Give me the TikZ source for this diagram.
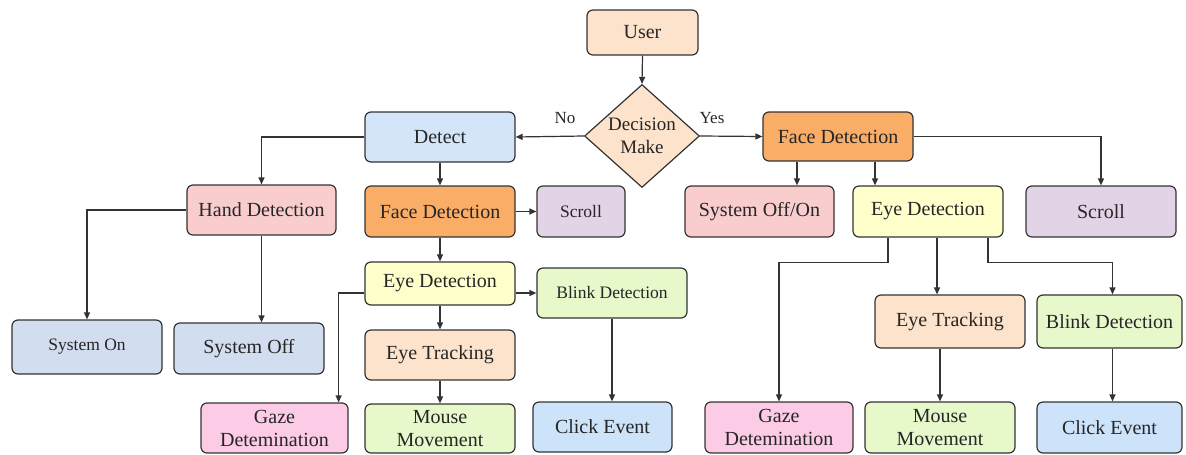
\documentclass[tikz,border=0pt]{standalone}
\usepackage{fontspec}
\setmainfont{Liberation Serif}
\newfontfamily\tnr{Liberation Serif}
\usetikzlibrary{shapes.geometric,arrows.meta}
\definecolor{cpeach}{HTML}{FDE3CB}
\definecolor{cblue}{HTML}{D4E5FA}
\definecolor{cclick}{HTML}{CCE3FA}
\definecolor{corange}{HTML}{F9AD66}
\definecolor{cpink}{HTML}{F9CDCD}
\definecolor{cpurple}{HTML}{E3D3E6}
\definecolor{cyellow}{HTML}{FFFFCC}
\definecolor{cgreen}{HTML}{E7F8CB}
\definecolor{cgrayblue}{HTML}{D2DEEF}
\definecolor{cgaze}{HTML}{FCCBE5}
\definecolor{cline}{HTML}{333333}
\definecolor{ctext}{HTML}{262626}
\tikzset{
  box/.style={draw=cline, line width=1.2pt, rounded corners=6pt, inner sep=0pt,
    align=center, text=ctext, font=\tnr\fontsize{20}{23}\selectfont},
  small/.style={font=\tnr\fontsize{17.5}{21}\selectfont},
  dia/.style={draw=cline, line width=1.2pt, shape=diamond, inner sep=0pt, fill=cpeach},
  arr/.style={draw=cline, line width=1.2pt, -{Triangle[length=7pt,width=6pt]}},
  lbl/.style={text=ctext, font=\tnr\fontsize{17}{21}\selectfont, inner sep=0pt}
}
\newcommand{\bx}[8]{% name, x1, x2, y1, y2, fill, extra, text
  \node[box, fill=#6, minimum width={#3-#2}, minimum height={#5-#4}, #7] (#1) at ({(#2+#3)/2},{(#4+#5)/2}) {#8};}
\begin{document}
\begin{tikzpicture}[x=1pt,y=-1pt]
\useasboundingbox (0,0) rectangle (1186,455);
% top
\bx{user}{587}{698}{10}{55}{cpeach}{}{User}
\node[dia, minimum width=115pt, minimum height=103pt] (dec) at (642,136) {};
\node[lbl, align=center, font=\tnr\fontsize{19}{23}\selectfont] (dectxt) at (dec) {Decision\\Make};
\bx{detect}{365}{515}{112}{162}{cblue}{}{Detect}
\bx{face1}{763}{913}{112}{161}{corange}{}{Face Detection}
% row 2
\bx{hand}{187}{336}{185}{235}{cpink}{}{Hand Detection}
\bx{face2}{365}{515}{186}{237}{corange}{}{Face Detection}
\bx{scroll2l}{537}{625}{186}{237}{cpurple}{small}{Scroll}
\bx{sysoffon}{685}{834}{186}{237}{cpink}{}{System Off/On}
\bx{eye1}{853}{1003}{186}{237}{cyellow}{}{Eye Detection}
\bx{scroll1}{1026}{1176}{186}{237}{cpurple}{}{Scroll}
% left middle
\bx{eye2}{365}{515}{262}{305}{cyellow}{}{Eye Detection}
\bx{blink2}{537}{687}{268}{318}{cgreen}{small}{Blink Detection}
\bx{sysOn}{12}{162}{320}{374}{cgrayblue}{small}{System On}
\bx{sysOff}{174}{324}{323}{374}{cgrayblue}{}{System Off}
\bx{track2}{365}{515}{330}{380}{cpeach}{}{Eye Tracking}
% right middle
\bx{track1}{875}{1025}{295}{348}{cpeach}{}{Eye Tracking}
\bx{blink1}{1037}{1182}{295}{348}{cgreen}{}{Blink Detection}
% bottom
\bx{gaze2}{201}{348}{403}{453}{cgaze}{}{Gaze\\Detemination}
\bx{mouse2}{365}{515}{404}{453}{cgreen}{}{Mouse\\Movement}
\bx{click2}{533}{672}{402}{452}{cclick}{}{Click Event}
\bx{gaze1}{705}{853}{402}{453}{cgaze}{}{Gaze\\Detemination}
\bx{mouse1}{865}{1015}{402}{453}{cgreen}{}{Mouse\\Movement}
\bx{click1}{1037}{1182}{402}{453}{cclick}{}{Click Event}
% labels
\node[lbl] (no) at (565,118) {No};
\node[lbl] (yes) at (712,118) {Yes};
% connectors
\draw[arr] (user.south) -- (dec.north);
\draw[arr] (dec.west) -- (detect.east);
\draw[arr] (dec.east) -- (face1.west);
\draw[arr] (detect.west) -| (hand.north);
\draw[arr] (detect.south) -- (face2.north);
\draw[arr] (face2.east) -- (scroll2l.west);
\draw[arr] (face2.south) -- (eye2.north);
\draw[arr] (eye2.east |- blink2.west) -- (blink2.west);
\draw[arr] (eye2.west |- blink2.west) -| ([xshift=-10pt]gaze2.north east);
\draw[arr] (eye2.south) -- (track2.north);
\draw[arr] (track2.south) -- (mouse2.north);
\draw[arr] (blink2.south) -- (blink2.south |- click2.north);
\draw[arr] (hand.west) -| (sysOn.north);
\draw[arr] (hand.south) -- (hand.south |- sysOff.north);
\draw[arr] ([xshift=-41pt]face1.south) -- ([xshift=-41pt]face1.south |- sysoffon.north);
\draw[arr] ([xshift=37pt]face1.south) -- ([xshift=37pt]face1.south |- eye1.north);
\draw[arr] (face1.east) -| (scroll1.north);
\draw[arr] ([xshift=-40pt]eye1.south) -- ++(0,25) -| (gaze1.north);
\draw[arr] ([xshift=9pt]eye1.south) -- ([xshift=9pt]eye1.south |- track1.north);
\draw[arr] ([xshift=60pt]eye1.south) -- ++(0,25) -| ([xshift=3pt]blink1.north);
\draw[arr] (mouse1.north |- track1.south) -- (mouse1.north);
\draw[arr] ([xshift=3pt]blink1.south) -- ([xshift=3pt]blink1.south |- click1.north);
\end{tikzpicture}
\end{document}
